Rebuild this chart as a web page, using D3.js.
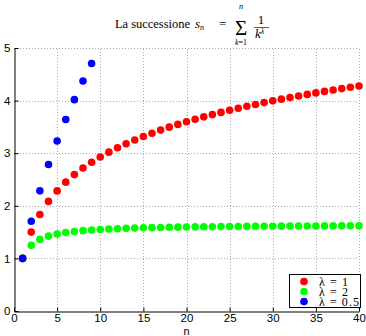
<!DOCTYPE html>
<html><head><meta charset="utf-8">
<script src="https://cdn.jsdelivr.net/npm/d3@7"></script>
<style>
body{margin:0;background:#fff;}
svg{display:block;}
.tick text{font-family:"Liberation Sans",Arial,sans-serif;font-size:11.5px;fill:#000;}
.serif{font-family:"Liberation Serif","DejaVu Serif","Times New Roman",serif;}
</style></head><body>
<svg id="chart" width="366" height="336"></svg>
<script>
const nRed = d3.range(1, 41);
const valuesLambda1 = [1.0000,1.5000,1.8333,2.0833,2.2833,2.4500,2.5929,2.7179,2.8290,2.9290,
 3.0199,3.1032,3.1801,3.2516,3.3182,3.3807,3.4396,3.4951,3.5477,3.5977,
 3.6454,3.6908,3.7343,3.7760,3.8160,3.8544,3.8915,3.9272,3.9617,3.9950,
 4.0272,4.0585,4.0888,4.1182,4.1468,4.1746,4.2016,4.2279,4.2535,4.2785];
const valuesLambda2 = [1.0000,1.2500,1.3611,1.4236,1.4636,1.4914,1.5118,1.5274,1.5398,1.5498,
 1.5580,1.5650,1.5709,1.5760,1.5804,1.5843,1.5878,1.5909,1.5937,1.5962,
 1.5984,1.6005,1.6024,1.6041,1.6057,1.6072,1.6086,1.6098,1.6110,1.6121,
 1.6132,1.6141,1.6150,1.6159,1.6167,1.6175,1.6182,1.6189,1.6196,1.6202];
const valuesLambda05 = [1.0000,1.7071,2.2845,2.7845,3.2317,3.6399,4.0179,4.3715,4.7048];
const xTicks = [0,5,10,15,20,25,30,35,40];
const yTicks = [0,1,2,3,4,5];
const seriesNames = ["\u03bb = 1","\u03bb = 2","\u03bb = 0.5"];
const seriesColors = ["#ff0000","#00ff00","#0000ff"];

const svg = d3.select("#chart");
const x = d3.scaleLinear().domain([0,40]).range([14,359]);
const y = d3.scaleLinear().domain([0,5]).range([311,48]);

// grid
const grid = svg.append("g").attr("stroke","#aaa").attr("stroke-dasharray","1,2").attr("stroke-width",1);
grid.selectAll("line.gx").data(xTicks.filter(d=>d>0)).join("line")
  .attr("x1",d=>Math.round(x(d))+0.5).attr("x2",d=>Math.round(x(d))+0.5)
  .attr("y1",y(0)).attr("y2",y(5));
grid.selectAll("line.gy").data(yTicks.filter(d=>d>0)).join("line")
  .attr("y1",d=>Math.round(y(d))+0.5).attr("y2",d=>Math.round(y(d))+0.5)
  .attr("x1",x(0)).attr("x2",x(40));

// axes
const xAxis = svg.append("g").attr("transform",`translate(0,${Math.round(y(0))+0.5})`)
  .call(d3.axisBottom(x).tickValues(xTicks).tickFormat(d3.format("d")).tickSizeInner(-4).tickSizeOuter(0).tickPadding(2));
const yAxis = svg.append("g").attr("transform",`translate(${Math.round(x(0))+0.5},0)`)
  .call(d3.axisLeft(y).tickValues(yTicks).tickFormat(d3.format("d")).tickSizeInner(-4).tickSizeOuter(0).tickPadding(3));
[xAxis,yAxis].forEach(a=>{a.select(".domain").attr("stroke","#000");a.selectAll(".tick line").attr("stroke","#000");});
yAxis.selectAll(".tick text").attr("x",-4);

// data
const r = 3.8;
const pts = svg.append("g");
pts.selectAll("circle.s1").data(valuesLambda1).join("circle").attr("class","s1")
  .attr("cx",(d,i)=>x(nRed[i])).attr("cy",d=>y(d)).attr("r",r).attr("fill",seriesColors[0]);
pts.selectAll("circle.s2").data(valuesLambda2).join("circle").attr("class","s2")
  .attr("cx",(d,i)=>x(nRed[i])).attr("cy",d=>y(d)).attr("r",r).attr("fill",seriesColors[1]);
pts.selectAll("circle.s3").data(valuesLambda05).join("circle").attr("class","s3")
  .attr("cx",(d,i)=>x(i+1)).attr("cy",d=>y(d)).attr("r",r).attr("fill",seriesColors[2]);

// x label
svg.append("text").attr("x",x(20)).attr("y",335).attr("text-anchor","middle")
  .attr("font-family","Liberation Sans,Arial,sans-serif").attr("font-size",11).text("n");

// legend
const lg = svg.append("g");
lg.append("rect").attr("x",289.5).attr("y",274.5).attr("width",71).attr("height",33)
  .attr("fill","#fff").attr("stroke","#000").attr("stroke-width",1);
const legW = [29, 29, 40];
seriesNames.forEach((nm,i)=>{
  const cy = 281.5 + i*10;
  lg.append("circle").attr("cx",304).attr("cy",cy).attr("r",r).attr("fill",seriesColors[i]);
  lg.append("text").attr("class","serif").attr("x",319).attr("y",cy+4).attr("font-size",12)
    .attr("textLength",legW[i]).text(nm);
});

// title
const t = svg.append("g").attr("class","serif").attr("fill","#000");
t.append("text").attr("x",115).attr("y",28).attr("font-size",12.5).attr("textLength",75).text("La successione");
const sn = t.append("text").attr("x",195).attr("y",28).attr("font-size",13);
sn.append("tspan").attr("font-style","italic").text("s");
sn.append("tspan").attr("font-style","italic").attr("font-size",8).attr("dy",2).text("n");
t.append("text").attr("x",219).attr("y",28).attr("font-size",13).text("=");
t.append("text").attr("x",241).attr("y",34.5).attr("font-size",21).attr("text-anchor","middle").text("\u03a3");
t.append("text").attr("x",241).attr("y",9).attr("font-size",8).attr("font-style","italic").attr("text-anchor","middle").text("n");
const kl = t.append("text").attr("x",241).attr("y",45).attr("font-size",8).attr("text-anchor","middle");
kl.append("tspan").attr("font-style","italic").text("k");
kl.append("tspan").text("=1");
t.append("text").attr("x",261).attr("y",24).attr("font-size",13).attr("text-anchor","middle").text("1");
t.append("line").attr("x1",254).attr("x2",269).attr("y1",27.5).attr("y2",27.5).attr("stroke","#000").attr("stroke-width",0.6);
const kd = t.append("text").attr("x",255).attr("y",38).attr("font-size",13);
kd.append("tspan").attr("font-style","italic").text("k");
kd.append("tspan").attr("font-style","italic").attr("font-size",8).attr("dy",-4).text("\u03bb");
</script>
</body></html>
